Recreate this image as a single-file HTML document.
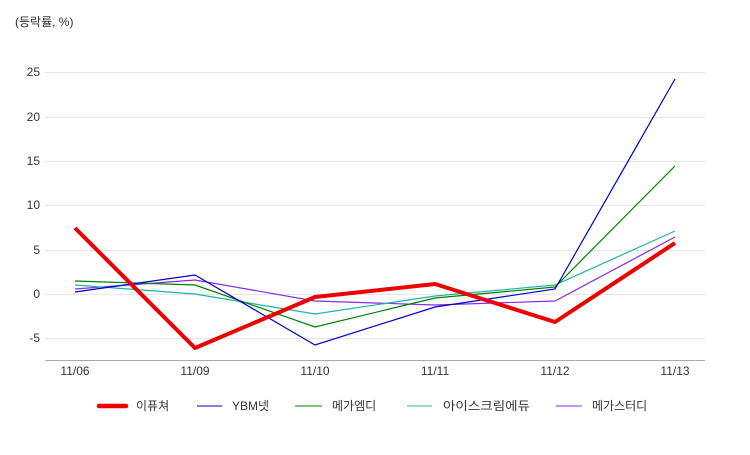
<!DOCTYPE html>
<html><head><meta charset="utf-8"><style>
body{margin:0;background:#fff;}
svg text{font-family:"Liberation Sans","Noto Sans CJK KR",sans-serif;font-size:12px;fill:#333;}
</style></head><body>
<svg width="750" height="450" viewBox="0 0 750 450" xmlns="http://www.w3.org/2000/svg">
<text x="15" y="26">(등락률, %)</text>
<g stroke="#e6e6e6" stroke-width="1">
<line x1="45" x2="705" y1="72.5" y2="72.5"/>
<line x1="45" x2="705" y1="117.5" y2="117.5"/>
<line x1="45" x2="705" y1="161.5" y2="161.5"/>
<line x1="45" x2="705" y1="205.5" y2="205.5"/>
<line x1="45" x2="705" y1="250.5" y2="250.5"/>
<line x1="45" x2="705" y1="294.5" y2="294.5"/>
<line x1="45" x2="705" y1="338.5" y2="338.5"/>
</g>
<line x1="45" x2="705" y1="360.5" y2="360.5" stroke="#aaa"/>
<g text-anchor="end">
<text x="40" y="76">25</text><text x="40" y="121">20</text><text x="40" y="165">15</text>
<text x="40" y="209">10</text><text x="40" y="254">5</text><text x="40" y="298">0</text><text x="40" y="342">-5</text>
</g>
<g text-anchor="middle">
<text x="75" y="375">11/06</text><text x="195" y="375">11/09</text><text x="315" y="375">11/10</text>
<text x="435" y="375">11/11</text><text x="555" y="375">11/12</text><text x="675" y="375">11/13</text>
</g>
<g fill="none" stroke-width="1.2">
<polyline stroke="#8a2be2" points="75,289 195,280 315,301 435,305 555,301 675,237"/>
<polyline stroke="#20b2aa" points="75,285 195,294 315,314 435,296 555,285 675,231"/>
<polyline stroke="#008000" points="75,281 195,285 315,327 435,298 555,287 675,166"/>
<polyline stroke="#0000cd" points="75,292 195,275 315,345 435,307 555,289 675,79"/>
<polyline stroke="#ee0000" stroke-width="4" stroke-linejoin="round" points="75,228 195,348 315,297 435,284 555,322 675,243"/>
</g>
<line x1="99" x2="126" y1="406" y2="406" stroke="#ee0000" stroke-width="4.5" stroke-linecap="round"/>
<text x="136" y="410">이퓨쳐</text>
<line x1="197" x2="222" y1="406" y2="406" stroke="#0000cd"/>
<text x="232" y="410">YBM넷</text>
<line x1="295" x2="322" y1="406" y2="406" stroke="#008000"/>
<text x="332" y="410">메가엠디</text>
<line x1="407" x2="432" y1="406" y2="406" stroke="#20b2aa"/>
<text x="443" y="410" textLength="87" lengthAdjust="spacingAndGlyphs">아이스크림에듀</text>
<line x1="556" x2="582" y1="406" y2="406" stroke="#8a2be2"/>
<text x="592" y="410">메가스터디</text>
</svg>
</body></html>
